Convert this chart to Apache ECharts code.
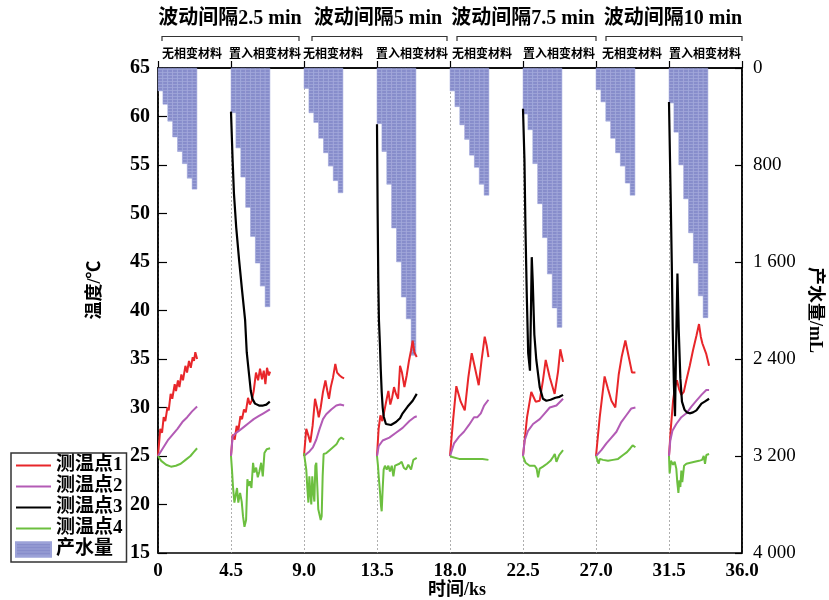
<!DOCTYPE html>
<html>
<head>
<meta charset="utf-8">
<script src="https://cdn.jsdelivr.net/npm/echarts@6/dist/echarts.min.js"></script>
<style>
  html, body { margin: 0; padding: 0; background: #ffffff; }
  #chart { width: 829px; height: 600px; }
</style>
</head>
<body>
<div id="chart"></div>
<script>
// ---- time axis (ks) ----
const xTicks = [0, 4.5, 9.0, 13.5, 18.0, 22.5, 27.0, 31.5, 36.0];
const groupTitles = ['波动间隔2.5 min', '波动间隔5 min', '波动间隔7.5 min', '波动间隔10 min'];
const caseLabels = ['无相变材料', '置入相变材料'];

// ---- water production (mL), cumulative, 0.3 ks steps per run ----
const waterStarts = [0, 4.5, 9.0, 13.5, 18.0, 22.5, 27.0, 31.5];
const waterStepKs = 0.3;
const water1 = [190, 300, 440, 570, 690, 790, 910, 1000];
const water2 = [370, 660, 900, 1150, 1390, 1610, 1800, 1970];
const water3 = [170, 370, 450, 580, 700, 810, 930, 1030];
const water4 = [460, 690, 960, 1320, 1600, 1890, 2070, 2370];
const water5 = [190, 320, 470, 590, 720, 820, 960, 1050];
const water6 = [380, 510, 790, 1120, 1400, 1700, 1980, 2140];
const water7 = [180, 280, 440, 580, 700, 810, 950, 1050];
const water8 = [290, 530, 800, 1080, 1360, 1610, 1880, 2060];

// ---- temperature, measuring point 1 [ks, °C] ----
const point1 = [
  [[0,25],[0.14,27.8],[0.25,27.4],[0.35,29.0],[0.45,28.6],[0.58,30.0],[0.66,29.7],[0.78,31.4],[0.88,30.9],[1.03,32.4],[1.11,31.7],[1.23,32.8],[1.32,32.1],[1.44,33.4],[1.54,32.8],[1.69,34.3],[1.79,33.6],[1.91,34.8],[2.02,34.1],[2.14,35.2],[2.22,34.8],[2.30,35.7],[2.41,35.0]],
  [[4.5,25],[4.6,27.2],[4.73,26.7],[4.85,28.1],[4.95,27.6],[5.08,29.1],[5.18,28.8],[5.3,29.8],[5.41,29.5],[5.55,31.0],[5.66,30.3],[5.78,30.7],[5.9,31.7],[6.04,33.6],[6.17,32.8],[6.29,34.0],[6.41,32.9],[6.52,33.8],[6.62,32.4],[6.72,34.1],[6.83,33.3],[6.91,33.7]],
  [[9.0,25],[9.14,27.8],[9.27,27.1],[9.39,26.4],[9.53,28.1],[9.68,30.9],[9.8,30.0],[9.91,29.0],[10.03,30.0],[10.17,31.6],[10.32,32.8],[10.44,31.7],[10.54,30.9],[10.65,32.1],[10.79,33.1],[10.93,34.5],[11.04,33.6],[11.2,33.3],[11.35,33.1],[11.47,33.0]],
  [[13.5,25],[13.6,27.8],[13.71,29.2],[13.83,28.6],[13.95,28.8],[14.1,30.9],[14.2,31.7],[14.32,30.3],[14.43,31.0],[14.55,32.1],[14.67,31.4],[14.8,30.9],[14.92,34.3],[15.04,33.6],[15.19,32.1],[15.33,33.3],[15.47,34.8],[15.6,35.9],[15.7,36.9],[15.8,35.7],[15.95,35.2]],
  [[18,25],[18.19,28.7],[18.39,32.2],[18.66,30.6],[18.91,29.7],[19.13,33.1],[19.34,35.6],[19.55,34.0],[19.77,32.3],[19.95,34.9],[20.14,37.3],[20.26,36.4],[20.37,35.2]],
  [[22.5,25],[22.75,29.0],[23.01,31.6],[23.28,30.6],[23.53,30.7],[23.73,32.8],[23.9,34.9],[24.15,33.1],[24.45,31.4],[24.66,33.7],[24.8,36.0],[24.97,34.7]],
  [[27,25],[27.23,29.0],[27.53,33.2],[27.74,31.9],[27.95,30.7],[28.19,30.0],[28.4,33.4],[28.58,35.2],[28.81,36.9],[29.02,35.2],[29.22,33.6],[29.43,33.6]],
  [[31.5,25],[31.62,28.0],[31.75,30.7],[31.87,32.1],[31.99,32.8],[32.12,31.9],[32.26,31.3],[32.41,31.6],[32.57,32.8],[32.78,34.3],[32.98,35.9],[33.19,37.4],[33.35,38.6],[33.46,37.3],[33.56,36.6],[33.66,36.8],[33.8,35.5],[33.97,34.3]]
];

// ---- measuring point 2 ----
const point2 = [
  [[0,25],[0.3,25.8],[0.6,26.6],[0.9,27.2],[1.2,27.8],[1.5,28.5],[1.8,29.0],[2.1,29.6],[2.41,30.1]],
  [[4.5,25],[4.6,27.0],[4.75,27.3],[5.0,27.6],[5.3,28.0],[5.6,28.4],[5.9,28.8],[6.2,29.1],[6.5,29.4],[6.9,29.8]],
  [[9.0,25],[9.35,25.5],[9.55,25.9],[9.76,26.7],[9.96,27.8],[10.17,28.8],[10.37,29.3],[10.68,29.8],[10.99,30.2],[11.23,30.3],[11.47,30.2]],
  [[13.5,25],[13.6,26.0],[13.85,26.6],[14.26,26.9],[14.67,27.4],[15.08,27.9],[15.5,28.6],[15.8,29.0],[15.95,29.1]],
  [[18,25],[18.25,26.3],[18.56,27.0],[18.86,27.5],[19.17,28.2],[19.48,29.0],[19.69,29.0],[19.9,29.4],[20.1,30.2],[20.37,30.8]],
  [[22.5,25],[22.6,26.6],[22.81,27.6],[23.12,28.3],[23.53,28.8],[23.84,29.4],[24.15,30.0],[24.56,30.2],[24.97,30.9]],
  [[27,25],[27.33,25.6],[27.64,26.3],[27.95,26.9],[28.26,27.5],[28.56,28.5],[28.87,29.2],[29.18,29.9],[29.43,30.0]],
  [[31.5,25],[31.58,26.6],[31.71,27.6],[31.95,28.3],[32.26,29.0],[32.57,29.4],[32.88,30.1],[33.19,30.7],[33.5,31.3],[33.8,31.8],[33.97,31.8]]
];

// ---- measuring point 3 (phase-change runs only) ----
const point3 = [
  [[4.5,60.5],[4.6,55.5],[4.68,52.1],[4.82,48.6],[5.0,45.2],[5.18,42.1],[5.37,39.0],[5.47,35.7],[5.62,33.3],[5.72,31.7],[5.82,30.9],[5.98,30.4],[6.23,30.2],[6.48,30.2],[6.68,30.3],[6.89,30.6]],
  [[13.5,59.2],[13.54,50.0],[13.58,43.0],[13.62,39.0],[13.68,36.5],[13.73,34.0],[13.79,31.6],[13.85,30.0],[13.91,29.1],[14.05,28.3],[14.36,28.2],[14.67,28.5],[14.92,28.9],[15.08,29.4],[15.39,30.1],[15.7,30.7],[15.95,31.4]],
  [[22.5,60.8],[22.59,55.5],[22.65,48.6],[22.73,41.8],[22.82,35.6],[22.93,33.8],[22.99,40.0],[23.04,45.5],[23.1,43.0],[23.2,37.5],[23.32,34.9],[23.53,32.1],[23.73,30.9],[23.94,30.7],[24.2,30.8],[24.5,31.0],[24.75,31.1],[24.97,31.3]],
  [[31.5,61.5],[31.6,52.0],[31.67,45.0],[31.73,38.0],[31.8,32.5],[31.87,29.1],[31.94,36.5],[32.02,43.8],[32.1,38.0],[32.2,33.0],[32.3,30.6],[32.45,29.8],[32.6,29.5],[32.77,29.4],[32.98,29.5],[33.19,29.7],[33.5,30.4],[33.7,30.6],[33.97,30.9]]
];

// ---- measuring point 4 ----
const point4 = [
  [[0,25],[0.2,24.5],[0.5,24.1],[0.8,23.9],[1.1,24.0],[1.4,24.2],[1.7,24.6],[2.0,25.0],[2.2,25.4],[2.41,25.8]],
  [[4.5,25],[4.56,23.6],[4.62,21.9],[4.71,20.2],[4.79,20.3],[4.87,21.7],[4.95,20.2],[5.06,21.2],[5.16,20.3],[5.24,18.8],[5.33,17.7],[5.43,18.4],[5.51,22.6],[5.59,21.9],[5.67,22.4],[5.76,21.7],[5.86,24.3],[5.94,23.3],[6.05,23.8],[6.15,22.8],[6.25,23.4],[6.36,24.3],[6.46,22.9],[6.56,25.3],[6.7,25.7],[6.91,25.8]],
  [[9.0,25.3],[9.08,25.2],[9.14,23.6],[9.21,21.6],[9.27,20.2],[9.33,22.9],[9.39,21.2],[9.45,20.0],[9.51,22.9],[9.58,21.2],[9.64,20.3],[9.7,24.0],[9.76,24.3],[9.82,21.9],[9.88,19.5],[9.95,19.0],[10.03,18.4],[10.09,18.8],[10.15,22.9],[10.21,25.2],[10.38,25.3],[10.58,25.6],[10.79,25.9],[11.0,26.2],[11.16,26.7],[11.3,26.9],[11.47,26.7]],
  [[13.5,25],[13.56,24.0],[13.62,22.6],[13.69,21.2],[13.75,19.8],[13.79,19.3],[13.85,21.6],[13.91,23.6],[13.99,24.0],[14.1,23.6],[14.2,24.0],[14.3,23.4],[14.41,24.0],[14.51,22.9],[14.61,24.0],[14.73,24.1],[14.88,24.2],[15.02,24.4],[15.15,23.8],[15.29,23.6],[15.43,24.1],[15.6,23.6],[15.74,24.6],[15.95,24.8]],
  [[18,25],[18.14,24.9],[18.56,24.7],[18.97,24.7],[19.38,24.7],[20.0,24.7],[20.37,24.6]],
  [[22.5,25],[22.66,24.3],[22.91,24.0],[23.22,24.0],[23.34,23.7],[23.43,22.8],[23.53,23.7],[23.73,23.9],[23.98,24.2],[24.19,24.5],[24.35,24.9],[24.46,25.2],[24.56,24.4],[24.73,25.1],[24.97,25.6]],
  [[27,25],[27.1,24.9],[27.16,24.2],[27.23,24.7],[27.43,24.6],[27.74,24.5],[28.05,24.6],[28.36,24.7],[28.67,25.1],[28.91,25.4],[29.12,25.8],[29.26,26.1],[29.43,25.9]],
  [[31.5,25],[31.54,23.2],[31.62,24.5],[31.75,24.1],[31.85,24.4],[31.95,23.7],[32.01,22.3],[32.08,21.2],[32.14,22.5],[32.2,21.8],[32.26,23.5],[32.32,22.3],[32.43,24.0],[32.57,24.2],[32.82,24.3],[33.08,24.4],[33.35,24.5],[33.54,24.6],[33.64,25.0],[33.72,24.2],[33.8,25.1],[33.97,25.2]]
];

const pointNames = ['测温点1', '测温点2', '测温点3', '测温点4'];
const pointColors = ['#e8262a', '#b35bb5', '#000000', '#6cbf3f'];
const waterName = '产水量';

const SERIF = '"Liberation Serif", "Times New Roman", "Noto Sans CJK SC", serif';

// build series: one line per run so the runs stay separate
const series = [];
const waterRuns = [water1, water2, water3, water4, water5, water6, water7, water8];
const waterData = [];
waterRuns.forEach((run, i) => {
  run.forEach((v, j) => waterData.push([waterStarts[i] + (j + 0.5) * waterStepKs, v]));
});
series.push({
  type: 'bar',
  name: waterName,
  xAxisIndex: 0,
  yAxisIndex: 1,
  data: waterData,
  barWidth: 5,
  z: 2,
  itemStyle: {
    color: '#878dcb',
    borderColor: '#9ca2d8',
    borderWidth: 0.3,
    decal: {
      symbol: 'rect',
      symbolSize: 1,
      color: 'rgba(178,183,226,0.5)',
      dashArrayX: [1, 0],
      dashArrayY: [1, 2],
      rotation: 0
    }
  }
});
[point1, point2, point3, point4].forEach((runs, k) => {
  runs.forEach(run => {
    series.push({
      type: 'line',
      name: pointNames[k],
      xAxisIndex: 0,
      yAxisIndex: 0,
      data: run,
      symbol: 'none',
      z: 5,
      lineStyle: { color: pointColors[k], width: k === 2 ? 2.2 : 2 },
      itemStyle: { color: pointColors[k] }
    });
  });
});

// decorations above the plot
const graphics = [];
const titleX = [230, 378, 523, 673];
const bracketSpans = [[162, 299], [312, 447], [457, 596], [606, 742]];
const caseX = [192, 265, 333, 412, 482, 559, 632, 705];
const centered = { align: 'center', verticalAlign: 'middle', textAlign: 'center', textVerticalAlign: 'middle', fill: '#000' };
groupTitles.forEach((t, i) => {
  graphics.push({
    type: 'text', x: titleX[i], y: 19,
    style: Object.assign({ text: t, font: 'bold 20px ' + SERIF }, centered)
  });
  const [a, b] = bracketSpans[i];
  graphics.push({
    type: 'polyline',
    shape: { points: [[a, 41], [a, 36.5], [b, 36.5], [b, 41]] },
    style: { stroke: '#333', lineWidth: 1.2, fill: null }
  });
});
caseX.forEach((cx, i) => {
  graphics.push({
    type: 'text', x: cx, y: 55,
    style: Object.assign({ text: caseLabels[i % 2], font: 'bold 12px ' + SERIF }, centered)
  });
});
graphics.push({
  type: 'text', x: 95, y: 290, rotation: Math.PI / 2,
  style: Object.assign({ text: '温度/℃', font: 'bold 18px ' + SERIF }, centered)
});
graphics.push({
  type: 'text', x: 815, y: 310, rotation: -Math.PI / 2,
  style: Object.assign({ text: '产水量/mL', font: 'bold 18px ' + SERIF }, centered)
});
graphics.push({
  type: 'text', x: 457, y: 590,
  style: Object.assign({ text: '时间/ks', font: 'bold 18px ' + SERIF }, centered)
});

const chart = echarts.init(document.getElementById('chart'), null, { renderer: 'canvas' });
chart.setOption({
  animation: false,
  backgroundColor: '#ffffff',
  grid: { left: 158, right: 87, top: 68, bottom: 47, show: true, borderColor: '#000', borderWidth: 1.5, backgroundColor: 'transparent' },
  legend: {
    left: 11, top: 453,
    orient: 'vertical',
    itemWidth: 35, itemHeight: 14, itemGap: 0,
    padding: [2, 4, 2, 4],
    borderColor: '#333', borderWidth: 1.5,
    backgroundColor: '#ffffff',
    textStyle: { fontFamily: SERIF, fontSize: 19, fontWeight: 'bold', lineHeight: 21, color: '#000' },
    data: [
      ...pointNames.map(n => ({ name: n, itemStyle: { opacity: 0 } })),
      { name: waterName, icon: 'rect' }
    ]
  },
  xAxis: {
    type: 'value', min: xTicks[0], max: xTicks[xTicks.length - 1], interval: 4.5,
    axisLine: { lineStyle: { color: '#000', width: 1.5 } },
    axisTick: { inside: true, length: 7, lineStyle: { color: '#000', width: 1.2 } },
    axisLabel: { margin: 9, fontFamily: SERIF, fontSize: 19, fontWeight: 'bold', color: '#000',
      formatter: v => (v === 0 ? '0' : v.toFixed(1)) },
    splitLine: { show: true, lineStyle: { color: '#9a9a9a', width: 0.8, type: [2, 2] } }
  },
  yAxis: [
    {
      type: 'value', min: 15, max: 65, interval: 5,
      axisLine: { show: true, lineStyle: { color: '#000', width: 1.5 } },
      axisTick: { show: true, inside: true, length: 9, lineStyle: { color: '#000', width: 1.2 } },
      axisLabel: { margin: 8, fontFamily: SERIF, fontSize: 20, fontWeight: 'bold', color: '#000' },
      splitLine: { show: false }
    },
    {
      type: 'value', min: 0, max: 4000, interval: 800, inverse: true, position: 'right',
      axisLine: { show: true, lineStyle: { color: '#000', width: 1.5 } },
      axisTick: { show: true, inside: true, length: 7, lineStyle: { color: '#000', width: 1.2 } },
      axisLabel: { margin: 11, fontFamily: SERIF, fontSize: 19, color: '#000',
        formatter: v => (v >= 1000 ? Math.floor(v / 1000) + ' ' + String(v % 1000).padStart(3, '0') : String(v)) },
      splitLine: { show: false }
    }
  ],
  graphic: graphics,
  series: series
});
</script>
</body>
</html>
